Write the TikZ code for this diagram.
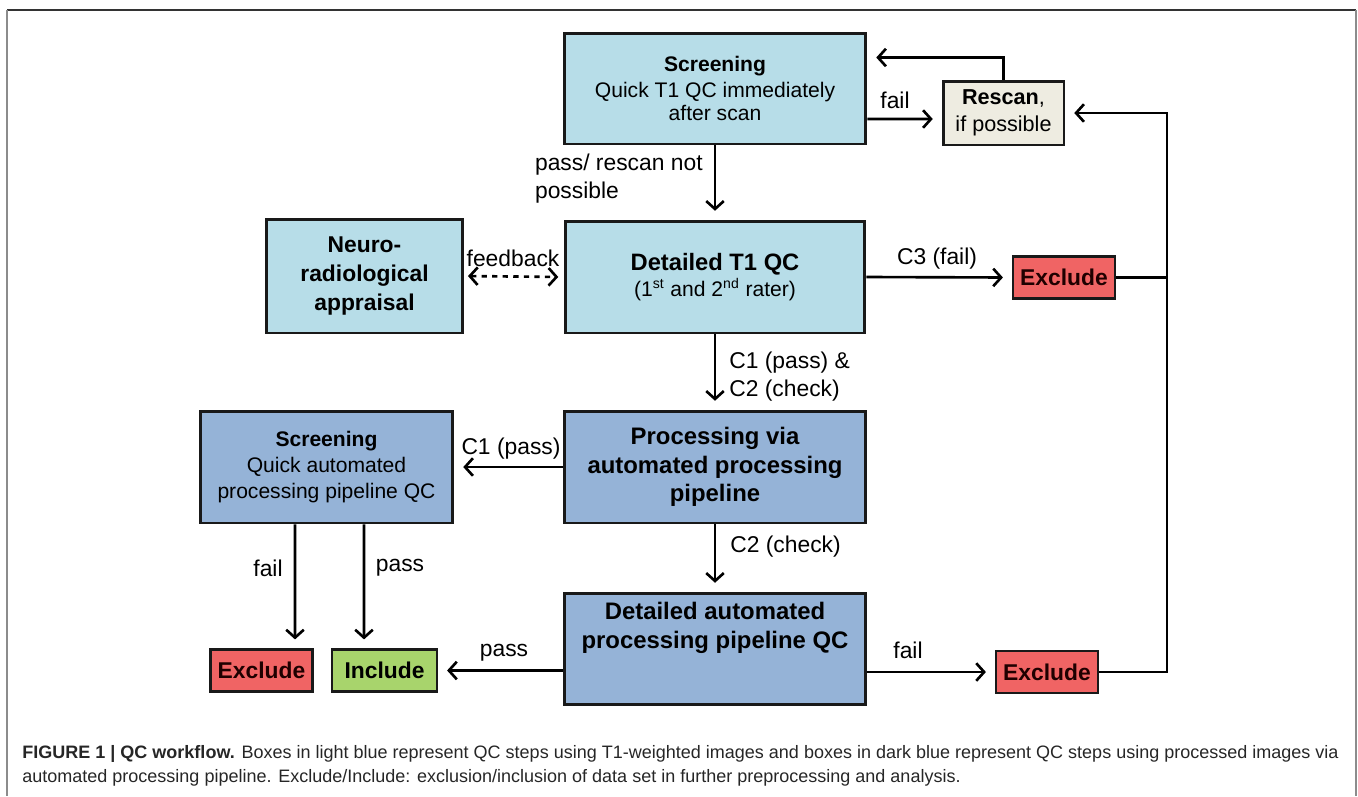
\documentclass[tikz,border=0pt]{standalone}
\usepackage{fontspec}
\setmainfont{Liberation Sans}
\usetikzlibrary{arrows.meta,calc}

\definecolor{lightqc}{HTML}{B7DDE8}
\definecolor{darkqc}{HTML}{95B3D7}
\definecolor{rescanfill}{HTML}{EEECE1}
\definecolor{excludefill}{HTML}{F06464}
\definecolor{includefill}{HTML}{A8D46C}

\tikzset{
  box/.style={draw=black!90, line width=1.7pt, align=center, inner sep=0pt},
  lightstep/.style={box, fill=lightqc},
  darkstep/.style={box, fill=darkqc},
  rescanbox/.style={box, fill=rescanfill, minimum width=2.42cm, minimum height=1.28cm,
    font=\fontsize{12.3}{15.4}\selectfont},
  endbox/.style={box, line width=1.5pt, minimum height=0.84cm,
    font=\fontsize{13}{15}\selectfont\bfseries},
  excludebox/.style={endbox, fill=excludefill, text=black!80!red!60!black, minimum width=2.04cm},
  includebox/.style={endbox, fill=includefill, minimum width=2.1cm},
  flow/.style={line width=1.5pt, ->, shorten >=5pt},
  lbl/.style={font=\fontsize{13}{15.5}\selectfont, inner sep=0pt},
}

\begin{document}
\begin{tikzpicture}[x=0.02cm, y=-0.02cm,
    >={Straight Barb[length=4.5pt,width=10pt,line width=1.5pt]}]
  \useasboundingbox (0,0) rectangle (1358,796);
  % Frame
  \draw[black!80, line width=0.8pt] (7,10) -- (1356,10);
  \draw[black!45, line width=0.8pt] (7,10) -- (7,796) (1356,10) -- (1356,796);

  % T1 steps (light blue)
  \node[lightstep, minimum width=6.04cm, minimum height=2.22cm,
        font=\fontsize{12}{13.2}\selectfont] (scr1) at (715,88.5)
        {\textbf{Screening}\\[2pt]Quick T1 QC immediately\\after scan};
  \node[rescanbox] (rescan) at (1003.5,113) {\textbf{Rescan},\\if possible};
  \node[lightstep, minimum width=3.94cm, minimum height=2.28cm,
        font=\fontsize{13}{16.5}\selectfont\bfseries] (neuro) at (364.5,276)
        {Neuro-\\radiological\\appraisal};
  \node[lightstep, minimum width=6cm, minimum height=2.24cm,
        font=\fontsize{12}{14.8}\selectfont] (det1) at (715,277)
        {\fontsize{13.5}{14.8}\selectfont\textbf{Detailed T1 QC}\\
         (1\textsuperscript{st} and 2\textsuperscript{nd} rater)};
  \node[excludebox] (excl1) at (1064,277.5) {Exclude};

  % Processed steps (dark blue)
  \node[darkstep, minimum width=6.02cm, minimum height=2.24cm,
        font=\fontsize{13.6}{16.2}\selectfont\bfseries] (proc) at (715,467)
        {Processing via\\automated processing\\pipeline};
  \node[darkstep, minimum width=5.06cm, minimum height=2.24cm,
        font=\fontsize{12}{14.8}\selectfont] (scr2) at (326.5,467)
        {\textbf{Screening}\\Quick automated\\processing pipeline QC};
  \node[darkstep, minimum width=6.02cm, minimum height=2.22cm,
        font=\fontsize{13.6}{16.5}\selectfont\bfseries] (det2) at (715,648.5)
        {Detailed automated\\processing pipeline QC\\[10pt]};
  \node[excludebox] (excl2) at (261.5,670.5) {Exclude};
  \node[includebox] (incl) at (384.5,670.5) {Include};
  \node[excludebox] (excl3) at (1047,672) {Exclude};

  % Rescan loop
  \draw[flow] ($(scr1.east)+(0,30.5)$) -- ($(rescan.west)+(0,6)$);
  \node[lbl] at (895,100) {fail};
  \draw[flow] (rescan.north) |- ($(scr1.north east)+(0,26)$);
  \draw[flow] (scr1.south) -- (det1.north);
  \node[lbl, anchor=north east, align=left] at (703,154) {pass/ rescan not\\possible};

  % Detailed T1 QC
  \draw[line width=1.5pt, <->, dashed, shorten <=2pt, shorten >=3pt] (neuro.east) -- (det1.west);
  \node[lbl] at (513,258) {feedback};
  \draw[flow] (det1.east) -- (excl1.west);
  \node[lbl] at (937,259) {C3 (fail)};
  \draw[flow] (det1.south) -- (proc.north);
  \node[lbl, anchor=west, align=left] at (729,376.5) {C1 (pass) \&\\C2 (check)};

  % Pipeline
  \draw[flow] (proc.west) -- (scr2.east);
  \node[lbl] at (511,449) {C1 (pass)};
  \draw[flow] (proc.south) -- (det2.north);
  \node[lbl, anchor=west] at (730,547) {C2 (check)};
  \draw[flow] ($(scr2.south)+(-31.5,0)$) -- ($(excl2.north)+(33.5,0)$);
  \node[lbl] at (268,568) {fail};
  \draw[flow] ($(scr2.south)+(37.5,0)$) -- ($(incl.north)+(-20.5,0)$);
  \node[lbl] at (400,568) {pass};
  \draw[flow] (det2.west |- incl.east) -- (incl.east);
  \node[lbl] at (504,653) {pass};
  \draw[flow] (det2.east |- excl3.west) -- (excl3.west);
  \node[lbl] at (908,650) {fail};

  % Back to rescan
  \coordinate (back) at (1167,113);
  \draw[flow] (excl3.east) -| (back) -- (rescan.east);
  \draw[line width=1.5pt] (excl1.east) -- (excl1.east -| back);

  % Caption
  \node[anchor=north west, align=left, inner sep=0pt, text=black!85,
        font=\fontsize{10.25}{13.7}\selectfont] (caption) at (22,745)
    {\textbf{FIGURE 1 | QC workflow.} Boxes in light blue represent QC steps using T1-weighted images and boxes in dark blue represent QC steps using processed images via\\
     automated processing pipeline. Exclude/Include: exclusion/inclusion of data set in further preprocessing and analysis.};
\end{tikzpicture}
\end{document}
